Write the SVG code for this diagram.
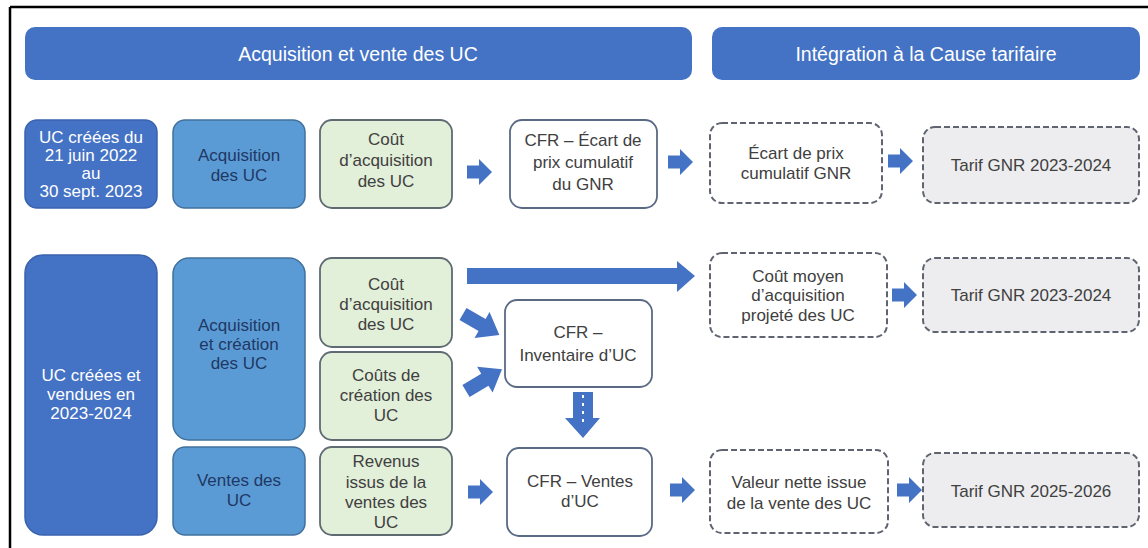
<svg xmlns="http://www.w3.org/2000/svg" width="1148" height="548" viewBox="0 0 1148 548">
<defs>
<style>
.t{font-family:"Liberation Sans",Arial,sans-serif;font-size:17px;text-anchor:middle;fill:#404040}
.hd{font-family:"Liberation Sans",Arial,sans-serif;font-size:19.5px;text-anchor:middle;fill:#ffffff}
.w{fill:#ffffff}
.n{fill:#1f3864}
.dark{fill:#4472c4;stroke:#3a62ad;stroke-width:1.5}
.mid{fill:#5b9bd5;stroke:#41719c;stroke-width:1.5}
.grn{fill:#e2efd9;stroke:#5f6b73;stroke-width:1.8}
.cfr{fill:#ffffff;stroke:#5a6a85;stroke-width:1.8}
.dsh{fill:#ffffff;stroke:#5f6470;stroke-width:2;stroke-dasharray:6 3}
.dshg{fill:#ededef;stroke:#5f6470;stroke-width:2;stroke-dasharray:6 3}
.arr{fill:#4472c4}
</style>
<path id="ar" d="M0,-6.5 H12 V-13 L25,0 L12,13 V6.5 H0 Z"/>
<path id="ard" d="M0,-7 H22 V-15 L42,0 L22,15 V7 H0 Z"/>
</defs>
<rect width="1148" height="548" fill="#ffffff"/>
<g id="frame" stroke="#000" stroke-width="2.5" fill="none">
<line x1="10" y1="7" x2="1148" y2="7"/>
<line x1="10" y1="7" x2="10" y2="548"/>
</g>

<g id="header1"><rect x="25" y="27" width="667" height="53" rx="10" fill="#4472c4"/><text class="hd" x="358" y="61">Acquisition et vente des UC</text></g>
<g id="header2"><rect x="712" y="27" width="428" height="53" rx="10" fill="#4472c4"/><text class="hd" x="926" y="61">Intégration à la Cause tarifaire</text></g>

<g id="uc2022"><rect class="dark" x="25" y="120" width="132" height="88" rx="12"/>
<text class="t w" x="91"><tspan x="91" y="143">UC créées du</tspan><tspan x="91" y="161">21 juin 2022</tspan><tspan x="91" y="179">au</tspan><tspan x="91" y="197">30 sept. 2023</tspan></text></g>
<g id="acq1"><rect class="mid" x="173" y="120" width="132" height="88" rx="12"/>
<text class="t n"><tspan x="239" y="161">Acquisition</tspan><tspan x="239" y="181">des UC</tspan></text></g>
<g id="cout1"><rect class="grn" x="320" y="120" width="132" height="88" rx="12"/>
<text class="t"><tspan x="386" y="145">Coût</tspan><tspan x="386" y="166">d’acquisition</tspan><tspan x="386" y="187">des UC</tspan></text></g>
<g id="cfr1"><rect class="cfr" x="510" y="120" width="147" height="88" rx="12"/>
<text class="t"><tspan x="583" y="146">CFR – Écart de</tspan><tspan x="583" y="168">prix cumulatif</tspan><tspan x="583" y="190">du GNR</tspan></text></g>
<g id="ecart"><rect class="dsh" x="710" y="123" width="172" height="80" rx="12"/>
<text class="t"><tspan x="796" y="159">Écart de prix</tspan><tspan x="796" y="179">cumulatif GNR</tspan></text></g>
<g id="tarif1"><rect class="dshg" x="923" y="127" width="216" height="76" rx="12"/>
<text class="t" x="1031" y="171">Tarif GNR 2023-2024</text></g>

<g id="uc2023"><rect class="dark" x="25" y="255" width="132" height="280" rx="18"/>
<text class="t w"><tspan x="91" y="381">UC créées et</tspan><tspan x="91" y="400">vendues en</tspan><tspan x="91" y="419">2023-2024</tspan></text></g>
<g id="acq2"><rect class="mid" x="173" y="258" width="132" height="182" rx="16"/>
<text class="t n"><tspan x="239" y="331">Acquisition</tspan><tspan x="239" y="350">et création</tspan><tspan x="239" y="369">des UC</tspan></text></g>
<g id="ventes"><rect class="mid" x="173" y="447" width="132" height="88" rx="12"/>
<text class="t n"><tspan x="239" y="486">Ventes des</tspan><tspan x="239" y="506">UC</tspan></text></g>
<g id="cout2"><rect class="grn" x="320" y="258" width="132" height="89" rx="12"/>
<text class="t"><tspan x="386" y="290">Coût</tspan><tspan x="386" y="310">d’acquisition</tspan><tspan x="386" y="330">des UC</tspan></text></g>
<g id="creation"><rect class="grn" x="320" y="352" width="132" height="88" rx="12"/>
<text class="t"><tspan x="386" y="381">Coûts de</tspan><tspan x="386" y="401">création des</tspan><tspan x="386" y="421">UC</tspan></text></g>
<g id="revenus"><rect class="grn" x="320" y="447" width="132" height="88" rx="12"/>
<text class="t"><tspan x="386" y="467">Revenus</tspan><tspan x="386" y="488">issus de la</tspan><tspan x="386" y="508">ventes des</tspan><tspan x="386" y="528">UC</tspan></text></g>
<g id="inventaire"><rect class="cfr" x="505" y="300" width="147" height="87" rx="12"/>
<text class="t"><tspan x="578" y="338">CFR –</tspan><tspan x="578" y="361">Inventaire d’UC</tspan></text></g>
<g id="cfrventes"><rect class="cfr" x="507" y="448" width="145" height="88" rx="12"/>
<text class="t"><tspan x="580" y="487">CFR – Ventes</tspan><tspan x="580" y="507">d’UC</tspan></text></g>
<g id="coutmoyen"><rect class="dsh" x="710" y="253" width="177" height="84" rx="12"/>
<text class="t"><tspan x="798" y="282">Coût moyen</tspan><tspan x="798" y="301">d’acquisition</tspan><tspan x="798" y="321">projeté des UC</tspan></text></g>
<g id="tarif2"><rect class="dshg" x="923" y="258" width="216" height="74" rx="12"/>
<text class="t" x="1031" y="301">Tarif GNR 2023-2024</text></g>
<g id="valeur"><rect class="dsh" x="710" y="450" width="178" height="83" rx="12"/>
<text class="t"><tspan x="799" y="488">Valeur nette issue</tspan><tspan x="799" y="509">de la vente des UC</tspan></text></g>
<g id="tarif3"><rect class="dshg" x="923" y="453" width="216" height="74" rx="12"/>
<text class="t" x="1031" y="497">Tarif GNR 2025-2026</text></g>

<g id="connectors" class="arr">
<use href="#ar" x="467" y="172"/>
<use href="#ar" x="668" y="162"/>
<use href="#ar" x="888" y="161"/>
<path d="M467,268 H677 V261 L695,276 L677,292 V284 H467 Z"/>
<use href="#ard" transform="translate(463,314) rotate(30)"/>
<use href="#ard" transform="translate(466,391) rotate(-31)"/>
<path d="M573,392 H593 V418 H600 L583,438 L565,418 H573 Z"/>
<line x1="583" y1="395" x2="583" y2="424" stroke="#ffffff" stroke-width="2" stroke-dasharray="3 5"/>
<use href="#ar" x="468" y="492"/>
<use href="#ar" x="670" y="490"/>
<use href="#ar" x="892" y="295"/>
<use href="#ar" x="897" y="490"/>
</g>
</svg>
